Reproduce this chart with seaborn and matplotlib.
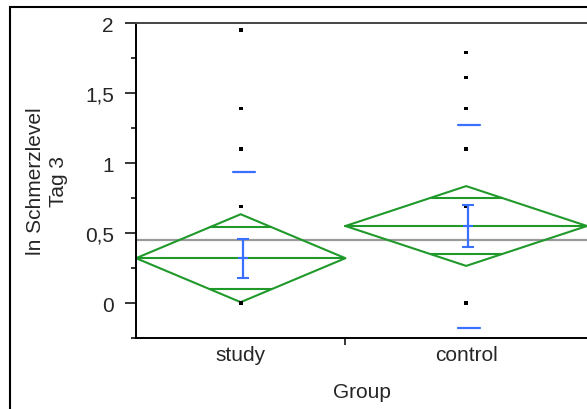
import numpy as np
import pandas as pd
import matplotlib
matplotlib.use("Agg")
import matplotlib.pyplot as plt
from matplotlib.patches import Rectangle
import seaborn as sns

# data
groups = ["study", "control"]
group_n = [26, 30]
study_pts = [0.0, 0.69, 1.10, 1.39, 1.95]
control_pts = [0.0, 0.69, 1.10, 1.39, 1.61, 1.79]
group_mean = [0.32, 0.55]
group_ci = [0.314, 0.285]      # half width of 95% CI (diamond)
group_se = [0.139, 0.15]       # std error bars
group_sd = [0.616, 0.725]      # std dev dashes
grand_mean = 0.45

y_ticks = [0, 0.5, 1, 1.5, 2]
y_ticklabels = ["0", "0,5", "1", "1,5", "2"]

green = "#1f9a2a"
blue = "#3a70ff"

sns.set_style("white")
plt.rcParams["font.family"] = ["Liberation Sans", "DejaVu Sans"]
plt.rcParams["font.size"] = 15

fig = plt.figure(figsize=(5.87, 4.10), dpi=100)
ax = fig.add_axes([136 / 587, 71 / 410, 451 / 587, 315 / 410])

edges = np.concatenate([[0], np.cumsum(group_n)])
centers = (edges[:-1] + edges[1:]) / 2
total = edges[-1]
px = total / 451.0  # data units per pixel along x

ax.set_xlim(0, total)
ax.set_ylim(-0.25, 2.0)

# grand mean line
ax.axhline(grand_mean, color="#9a9a9a", lw=1.6, zorder=1)

# means diamonds
for i in range(len(groups)):
    left, right, c = edges[i], edges[i + 1], centers[i]
    m, ci = group_mean[i], group_ci[i]
    ax.plot([left, c, right, c, left], [m, m + ci, m, m - ci, m],
            color=green, lw=1.5, zorder=2)
    ax.plot([left, right], [m, m], color=green, lw=1.5, zorder=2)
    ov = ci / np.sqrt(2)
    half = (right - left) / 2 * (1 - ov / ci)
    for yy in (m + ov, m - ov):
        ax.plot([c - half, c + half], [yy, yy], color=green, lw=1.5, zorder=2)

# points
pts = pd.DataFrame({
    "Group": ["study"] * len(study_pts) + ["control"] * len(control_pts),
    "value": study_pts + control_pts,
})
pts["x"] = pts["Group"].map(dict(zip(groups, centers)))
sns.scatterplot(data=pts, x="x", y="value", marker="s", s=7, color="black",
                edgecolor="none", ax=ax, zorder=3)

# std error bars and std dev dashes
for i in range(len(groups)):
    c = centers[i]
    m = group_mean[i]
    ax.errorbar([c + 2 * px], [m], yerr=[group_se[i]], fmt="_", color=blue,
                ms=7, mew=1.5, elinewidth=1.6, capsize=4, capthick=1.6, zorder=4)
    for yy in (m + group_sd[i], m - group_sd[i]):
        ax.plot([c - 8 * px, c + 14 * px], [yy, yy], color=blue, lw=1.6, zorder=4)

# axes styling
ax.set_yticks(y_ticks)
ax.set_yticklabels(y_ticklabels)
ax.set_yticks([-0.25, 0.25, 0.75, 1.25, 1.75], minor=True)
ax.tick_params(axis="y", which="major", direction="out", length=8, width=1.1,
               color="black", pad=8, left=True)
ax.tick_params(axis="y", which="minor", direction="out", length=3.6, width=1.1,
               color="black", left=True)

ax.set_xticks(centers)
ax.set_xticklabels(groups)
ax.set_xticks([edges[1]], minor=True)
ax.tick_params(axis="x", which="major", length=0, pad=5)
ax.tick_params(axis="x", which="minor", direction="out", length=5, width=1.1,
               color="black", bottom=True)

ax.set_xlabel("Group", labelpad=13)
ax.set_ylabel("ln Schmerzlevel\nTag 3", labelpad=12, linespacing=1.25)

ax.spines["right"].set_visible(False)
ax.spines["left"].set_color("black")
ax.spines["left"].set_linewidth(1.4)
ax.spines["bottom"].set_color("black")
ax.spines["bottom"].set_linewidth(1.4)
ax.spines["top"].set_color("#444444")
ax.spines["top"].set_linewidth(1.4)

# outer frame
fig.add_artist(Rectangle((10 / 587, -0.2), 1.5, 1.2 - 8 / 410,
                         transform=fig.transFigure, fill=False,
                         edgecolor="black", lw=1.5))

fig.savefig("out.png", dpi=100)
